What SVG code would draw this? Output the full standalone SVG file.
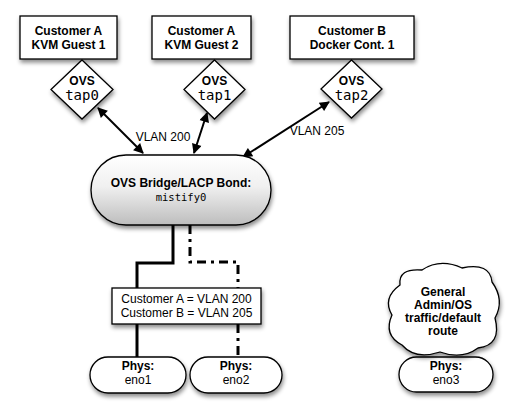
<svg xmlns="http://www.w3.org/2000/svg" width="526" height="413" viewBox="0 0 526 413">
<defs>
<filter id="sh" x="-20%" y="-20%" width="140%" height="160%">
<feDropShadow dx="1" dy="3" stdDeviation="2" flood-color="#000" flood-opacity="0.45"/>
</filter>
<linearGradient id="grad" x1="0" y1="0" x2="0" y2="1">
<stop offset="0" stop-color="#ffffff"/>
<stop offset="0.45" stop-color="#f0f0f0"/>
<stop offset="1" stop-color="#bdbdbd"/>
</linearGradient>
<marker id="ah" viewBox="0 0 10 10" refX="9" refY="5" markerWidth="6" markerHeight="5" orient="auto-start-reverse" markerUnits="strokeWidth">
<path d="M0,0 L10,5 L0,10 z" fill="#000"/>
</marker>
</defs>
<style>
.shape{fill:#fff;stroke:#000;stroke-width:1.3;filter:url(#sh)}
.b{font-family:"Liberation Sans",Arial,sans-serif;font-weight:bold;font-size:12px;text-anchor:middle;fill:#000}
.r{font-family:"Liberation Sans",Arial,sans-serif;font-size:12px;text-anchor:middle;fill:#000}
.m{font-family:"DejaVu Sans Mono","Liberation Mono",monospace;text-anchor:middle;fill:#000}
.arr{stroke:#000;stroke-width:2;fill:none;marker-start:url(#ah);marker-end:url(#ah)}
.solid{stroke:#000;stroke-width:3;fill:none}
.dd{stroke:#000;stroke-width:3;fill:none;stroke-dasharray:9 5 3 5}
</style>
<rect width="526" height="413" fill="#fff"/>

<g id="connectors">
<line class="arr" x1="98" y1="108" x2="143" y2="153"/>
<line class="arr" x1="207" y1="113" x2="194" y2="153"/>
<line class="arr" x1="329" y1="102" x2="243" y2="157"/>
<polyline class="solid" points="173,225 173,263 137,263 137,289"/>
<line class="solid" x1="137" y1="324" x2="137" y2="357"/>
<polyline class="dd" points="190,225 190,262 238,262 238,289"/>
<line class="dd" x1="238" y1="324" x2="238" y2="357"/>
<text class="r" x="163" y="141">VLAN 200</text>
<text class="r" x="317" y="135">VLAN 205</text>
</g>

<g id="guest1">
<rect class="shape" x="20" y="16" width="97" height="43"/>
<text class="b" x="68.5" y="35">Customer A</text>
<text class="b" x="68.5" y="49">KVM Guest 1</text>
</g>
<g id="guest2">
<rect class="shape" x="152" y="16" width="99" height="43"/>
<text class="b" x="201.5" y="35">Customer A</text>
<text class="b" x="201.5" y="49">KVM Guest 2</text>
</g>
<g id="docker1">
<rect class="shape" x="290" y="16" width="124" height="43"/>
<text class="b" x="352" y="35">Customer B</text>
<text class="b" x="352" y="49">Docker Cont. 1</text>
</g>

<g id="tap0">
<polygon class="shape" points="82,60 113,89.5 82,119 51,89.5"/>
<text class="b" x="82" y="85">OVS</text>
<text class="m" x="82" y="100" font-size="14">tap0</text>
</g>
<g id="tap1">
<polygon class="shape" points="214.5,60 245,89.5 214.5,119 184,89.5"/>
<text class="b" x="214.5" y="85">OVS</text>
<text class="m" x="214.5" y="100" font-size="14">tap1</text>
</g>
<g id="tap2">
<polygon class="shape" points="351.5,60 382,89 351.5,118 321,89"/>
<text class="b" x="351.5" y="85">OVS</text>
<text class="m" x="351.5" y="100" font-size="14">tap2</text>
</g>

<g id="bridge">
<rect x="91" y="155" width="180" height="70" rx="35" ry="35" fill="url(#grad)" stroke="#000" stroke-width="1.3" filter="url(#sh)"/>
<text class="b" x="181" y="187">OVS Bridge/LACP Bond:</text>
<text class="m" x="181" y="201" font-size="10.5">mistify0</text>
</g>

<g id="vlanmap">
<rect class="shape" x="112" y="288" width="149" height="36"/>
<text class="r" x="186.5" y="303">Customer A = VLAN 200</text>
<text class="r" x="186.5" y="317">Customer B = VLAN 205</text>
</g>

<g id="eno1">
<rect class="shape" x="90" y="357" width="96" height="36" rx="18" ry="18"/>
<text class="b" x="138" y="370">Phys:</text>
<text class="r" x="138" y="384">eno1</text>
</g>
<g id="eno2">
<rect class="shape" x="190" y="357" width="92" height="36" rx="18" ry="18"/>
<text class="b" x="236" y="370">Phys:</text>
<text class="r" x="236" y="384">eno2</text>
</g>
<g id="eno3">
<rect class="shape" x="399" y="357" width="94" height="35" rx="17.5" ry="17.5"/>
<text class="b" x="446" y="370">Phys:</text>
<text class="r" x="446" y="384">eno3</text>
</g>

<g id="cloud">
<path class="shape" d="M400 285 Q398 268 422 270 Q440 258 462 268 Q490 262 492 282 Q505 300 495 318 Q502 345 478 348 Q462 360 440 352 Q415 360 402 345 Q383 335 392 315 Q382 298 400 285 Z"/>
<text class="b" x="443" y="296">General</text>
<text class="b" x="443" y="309">Admin/OS</text>
<text class="b" x="443" y="322">traffic/default</text>
<text class="b" x="443" y="335">route</text>
</g>
</svg>
